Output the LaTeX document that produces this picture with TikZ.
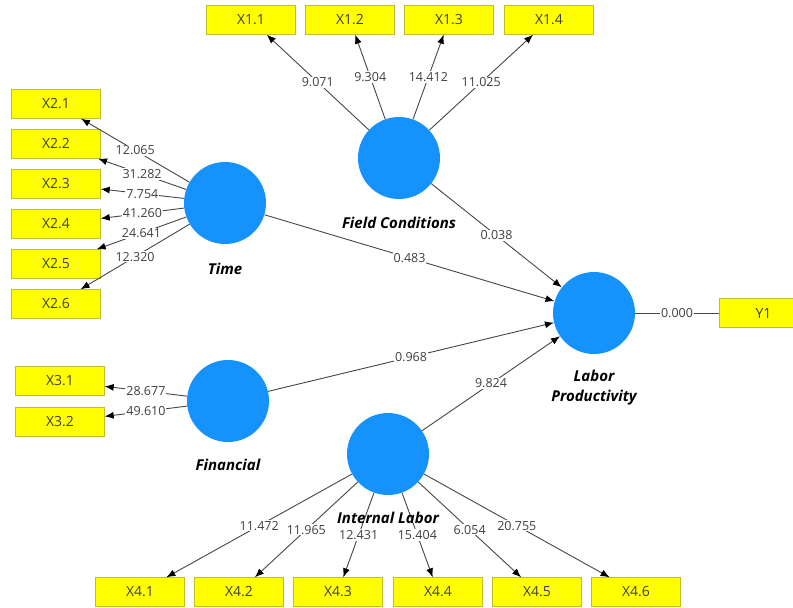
\documentclass[tikz,border=0pt]{standalone}
\usepackage{fontspec}
\setmainfont{Open Sans}
\usetikzlibrary{positioning,arrows.meta}
\definecolor{lvblue}{RGB}{22,146,252}
\definecolor{mvyellow}{RGB}{255,255,0}
\definecolor{mvborder}{RGB}{190,190,40}
\definecolor{linkgray}{RGB}{70,70,70}

\begin{document}
\begin{tikzpicture}[x=1pt,y=-1pt,>={Latex[length=9pt,width=7pt,color=black]}]
\tikzstyle{every node}=[font=\fontsize{12.5}{14}\selectfont]
\tikzstyle{lv}=[circle,fill=lvblue,minimum size=82pt,inner sep=0pt]
\tikzstyle{mv}=[rectangle,draw=mvborder,fill=mvyellow,minimum width=89pt,minimum height=29pt,inner sep=0pt,text=black!75,font=\fontsize{14}{16}\selectfont]
\tikzstyle{lvname}=[font=\fontsize{15}{20}\selectfont\bfseries\itshape,align=center]
\tikzstyle{coef}=[fill=white,inner sep=1pt,text=black!75]
\tikzstyle{link}=[->,draw=linkgray,line width=0.9pt]
\clip (0,0) rectangle (793,608);

% latent variables
\node[lv] (FC) at (399,158) {};
\node[lv] (T) at (225,203) {};
\node[lv] (F) at (228,401) {};
\node[lv] (IL) at (388,454) {};
\node[lv] (LP) at (594,313) {};

% indicators
\node[mv] (X11) at (251,20) {X1.1};
\node[mv] (X12) at (350,20) {X1.2};
\node[mv] (X13) at (449,20) {X1.3};
\node[mv] (X14) at (549,20) {X1.4};
\node[mv] (X21) at (56,104) {X2.1};
\node[mv] (X22) at (56,144) {X2.2};
\node[mv] (X23) at (56,184) {X2.3};
\node[mv] (X24) at (56,224) {X2.4};
\node[mv] (X25) at (56,264) {X2.5};
\node[mv] (X26) at (56,304) {X2.6};
\node[mv] (X31) at (60,381) {X3.1};
\node[mv] (X32) at (60,422) {X3.2};
\node[mv] (X41) at (140,592) {X4.1};
\node[mv] (X42) at (239,592) {X4.2};
\node[mv] (X43) at (338,592) {X4.3};
\node[mv] (X44) at (438,592) {X4.4};
\node[mv] (X45) at (537,592) {X4.5};
\node[mv] (X46) at (636,592) {X4.6};
\node[mv] (Y1) at (763.5,313) {Y1};

% outer loadings
\draw[link] (FC) -- node[coef]{9.071} (X11);
\draw[link] (FC) -- node[coef]{9.304} (X12);
\draw[link] (FC) -- node[coef]{14.412} (X13);
\draw[link] (FC) -- node[coef]{11.025} (X14);
\draw[link] (T) -- node[coef]{12.065} (X21);
\draw[link] (T) -- node[coef]{31.282} (X22);
\draw[link] (T) -- node[coef]{7.754} (X23);
\draw[link] (T) -- node[coef]{41.260} (X24);
\draw[link] (T) -- node[coef]{24.641} (X25);
\draw[link] (T) -- node[coef]{12.320} (X26);
\draw[link] (F) -- node[coef]{28.677} (X31);
\draw[link] (F) -- node[coef]{49.610} (X32);
\draw[link] (IL) -- node[coef]{11.472} (X41);
\draw[link] (IL) -- node[coef]{11.965} (X42);
\draw[link] (IL) -- node[coef]{12.431} (X43);
\draw[link] (IL) -- node[coef]{15.404} (X44);
\draw[link] (IL) -- node[coef]{6.054} (X45);
\draw[link] (IL) -- node[coef]{20.755} (X46);
\draw[link,-] (LP) -- node[coef]{0.000} (Y1);

% inner model
\draw[link] (FC) -- node[coef]{0.038} (LP);
\draw[link] (T) -- node[coef]{0.483} (LP);
\draw[link] (F) -- node[coef]{0.968} (LP);
\draw[link] (IL) -- node[coef]{9.824} (LP);

% names
\node[lvname,below=14pt of FC] (FCname) {Field Conditions};
\node[lvname,below=15pt of T] (Tname) {Time};
\node[lvname,below=13pt of F] (Fname) {Financial};
\node[lvname,below=13pt of IL] (ILname) {Internal Labor};
\node[lvname,below=12pt of LP] (LPname) {Labor\\Productivity};

\end{tikzpicture}
\end{document}
